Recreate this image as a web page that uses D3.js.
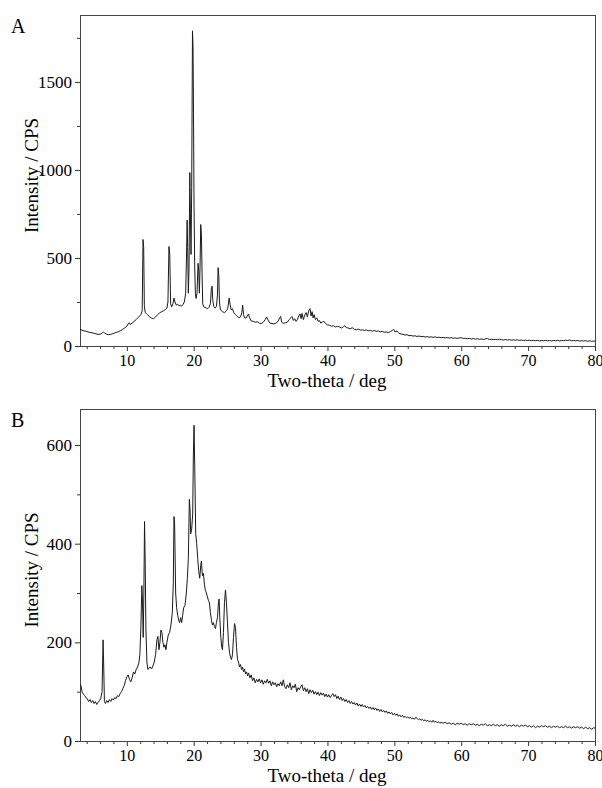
<!DOCTYPE html>
<html><head><meta charset="utf-8">
<script src="https://cdn.jsdelivr.net/npm/d3@7"></script>
<style>
body{margin:0;background:#fff}
svg{display:block}
</style>
</head><body>
<svg id="c" width="602" height="788"></svg>
<script>
// ---- data ----
const xTickValues = [10,20,30,40,50,60,70,80];
const yTicksA = [0,500,1000,1500];
const yTicksB = [0,200,400,600];
const panelLabels = ["A","B"];
const xTitle = "Two-theta / deg";
const yTitle = "Intensity / CPS";

// [two-theta, intensity]
const patternA = [
[3.0,95],[3.3,90],[3.6,86],[3.9,84],[4.2,80],[4.5,77],[4.8,75],[5.1,72],[5.4,69],[5.7,66],[6.0,67],[6.3,72],[6.5,80],[6.7,73],[7.0,67],[7.3,64],[7.6,66],[7.9,70],[8.2,74],[8.5,78],[8.8,82],[9.1,88],[9.4,95],[9.7,103],[10.0,112],[10.2,126],[10.35,132],[10.5,122],[10.8,130],[11.1,140],[11.4,150],[11.7,162],[11.9,170],[12.1,178],[12.3,200],[12.42,605],[12.52,560],[12.62,230],[12.75,190],[12.9,186],[13.1,178],[13.4,165],[13.7,158],[14.0,155],[14.3,165],[14.6,178],[14.9,188],[15.2,195],[15.5,200],[15.8,208],[16.0,215],[16.15,250],[16.3,565],[16.42,520],[16.55,240],[16.7,222],[16.9,240],[17.05,272],[17.2,250],[17.4,232],[17.6,238],[17.8,228],[18.0,232],[18.2,226],[18.4,236],[18.6,250],[18.8,300],[18.92,500],[19.02,715],[19.1,560],[19.2,300],[19.3,440],[19.42,985],[19.5,760],[19.6,520],[19.7,900],[19.82,1790],[19.9,1700],[19.97,1320],[20.05,800],[20.15,450],[20.25,300],[20.35,270],[20.5,300],[20.65,470],[20.75,430],[20.85,300],[20.95,450],[21.05,690],[21.15,640],[21.25,420],[21.35,240],[21.5,222],[21.7,220],[21.9,215],[22.1,212],[22.3,220],[22.5,240],[22.65,330],[22.75,340],[22.85,260],[23.0,225],[23.2,215],[23.4,225],[23.55,290],[23.65,445],[23.75,400],[23.85,250],[24.0,205],[24.3,195],[24.6,190],[24.9,200],[25.1,215],[25.3,272],[25.45,235],[25.6,205],[25.8,212],[26.0,188],[26.2,180],[26.4,172],[26.6,165],[26.8,160],[27.0,165],[27.2,190],[27.32,232],[27.45,180],[27.6,160],[27.8,158],[28.0,170],[28.2,182],[28.35,160],[28.6,142],[28.9,140],[29.2,135],[29.5,138],[29.8,130],[30.1,128],[30.4,135],[30.7,150],[30.9,165],[31.1,148],[31.4,130],[31.7,128],[32.0,125],[32.3,130],[32.6,140],[32.85,160],[33.0,168],[33.15,135],[33.4,128],[33.7,132],[34.0,135],[34.3,150],[34.5,160],[34.7,168],[34.9,145],[35.1,155],[35.3,140],[35.5,150],[35.7,170],[35.9,182],[36.05,155],[36.2,185],[36.4,150],[36.6,175],[36.8,190],[37.0,165],[37.2,200],[37.4,212],[37.55,170],[37.7,195],[37.85,160],[38.0,178],[38.2,150],[38.4,160],[38.6,140],[38.8,145],[39.0,130],[39.2,135],[39.45,140],[39.7,128],[40.0,120],[40.3,118],[40.6,112],[40.9,115],[41.2,108],[41.5,112],[41.8,108],[42.1,102],[42.4,110],[42.6,115],[42.8,105],[43.1,102],[43.4,98],[43.7,104],[44.0,95],[44.3,92],[44.6,96],[44.9,90],[45.2,92],[45.5,88],[45.8,92],[46.1,86],[46.4,89],[46.7,84],[47.0,88],[47.3,83],[47.6,86],[47.9,80],[48.2,83],[48.5,78],[48.8,80],[49.1,76],[49.4,82],[49.7,88],[49.9,95],[50.1,80],[50.4,85],[50.7,72],[51.0,68],[51.3,66],[51.6,62],[51.9,64],[52.2,58],[52.5,60],[52.8,56],[53.1,58],[53.4,54],[53.7,57],[54.0,53],[54.3,55],[54.6,51],[54.9,53],[55.2,50],[55.5,52],[55.8,49],[56.1,52],[56.4,48],[56.7,50],[57.0,47],[57.3,49],[57.6,46],[57.9,48],[58.2,45],[58.5,47],[58.8,44],[59.1,46],[59.4,43],[59.7,46],[60.0,47],[60.3,43],[60.6,44],[60.9,41],[61.2,43],[61.5,40],[61.8,42],[62.1,39],[62.4,41],[62.7,38],[63.0,40],[63.3,37],[63.6,40],[63.9,43],[64.2,37],[64.5,38],[64.8,36],[65.1,38],[65.4,35],[65.7,39],[66.0,36],[66.3,34],[66.6,37],[66.9,34],[67.2,36],[67.5,33],[67.8,35],[68.1,33],[68.4,35],[68.7,32],[69.0,34],[69.3,31],[69.6,33],[69.9,31],[70.2,33],[70.5,30],[70.8,32],[71.1,30],[71.4,32],[71.7,29],[72.0,31],[72.3,30],[72.6,32],[72.9,29],[73.2,31],[73.5,29],[73.8,31],[74.1,30],[74.4,32],[74.7,29],[75.0,31],[75.3,30],[75.6,33],[75.9,31],[76.2,34],[76.5,30],[76.8,31],[77.1,29],[77.4,31],[77.7,28],[78.0,30],[78.3,28],[78.6,30],[78.9,27],[79.2,29],[79.5,27],[79.8,28],[80.0,27]
];

const patternB = [
[3.0,115],[3.15,112],[3.3,100],[3.5,95],[3.7,92],[3.9,88],[4.1,85],[4.3,80],[4.5,84],[4.7,78],[4.9,82],[5.1,76],[5.3,80],[5.5,74],[5.7,78],[5.9,82],[6.1,86],[6.3,100],[6.45,205],[6.55,150],[6.65,80],[6.8,76],[7.0,82],[7.2,78],[7.4,84],[7.6,80],[7.8,86],[8.0,83],[8.2,88],[8.4,86],[8.6,92],[8.8,90],[9.0,96],[9.2,100],[9.4,106],[9.6,112],[9.8,122],[10.0,130],[10.2,134],[10.4,125],[10.6,120],[10.8,128],[11.0,140],[11.2,136],[11.4,145],[11.6,150],[11.8,158],[11.95,175],[12.1,230],[12.25,315],[12.35,280],[12.45,210],[12.55,300],[12.65,445],[12.75,360],[12.85,230],[13.0,160],[13.15,145],[13.3,148],[13.5,150],[13.7,146],[13.9,152],[14.1,160],[14.3,175],[14.5,205],[14.65,212],[14.8,185],[14.95,200],[15.1,225],[15.25,220],[15.4,200],[15.55,190],[15.7,195],[15.85,185],[16.0,200],[16.2,215],[16.4,220],[16.6,235],[16.8,260],[16.95,320],[17.05,455],[17.15,440],[17.3,300],[17.45,270],[17.6,255],[17.75,245],[17.9,240],[18.05,250],[18.2,240],[18.35,255],[18.5,270],[18.7,275],[18.9,300],[19.05,330],[19.2,370],[19.35,490],[19.45,470],[19.55,420],[19.7,430],[19.85,460],[19.95,580],[20.05,640],[20.15,560],[20.3,420],[20.45,400],[20.6,370],[20.75,345],[20.9,330],[21.05,355],[21.15,365],[21.3,335],[21.45,340],[21.6,318],[21.75,305],[21.9,300],[22.05,292],[22.2,285],[22.35,280],[22.5,260],[22.65,245],[22.8,235],[22.95,240],[23.1,232],[23.25,228],[23.4,240],[23.55,250],[23.7,280],[23.8,288],[23.9,250],[24.05,210],[24.2,190],[24.3,185],[24.45,220],[24.6,280],[24.75,306],[24.9,280],[25.05,240],[25.2,200],[25.35,180],[25.5,170],[25.65,165],[25.8,175],[25.95,210],[26.1,238],[26.25,230],[26.4,190],[26.55,165],[26.7,160],[26.85,150],[27.0,155],[27.15,145],[27.3,150],[27.45,140],[27.6,146],[27.75,136],[27.9,140],[28.05,132],[28.2,138],[28.4,128],[28.6,134],[28.8,122],[29.0,128],[29.2,118],[29.4,125],[29.6,120],[29.8,126],[30.0,118],[30.2,124],[30.4,115],[30.6,122],[30.8,118],[31.0,125],[31.2,117],[31.4,122],[31.6,112],[31.8,120],[32.0,114],[32.2,118],[32.4,110],[32.6,116],[32.8,112],[33.0,120],[33.2,112],[33.4,124],[33.6,110],[33.8,106],[34.0,114],[34.2,108],[34.4,118],[34.6,104],[34.8,112],[35.0,108],[35.2,115],[35.4,100],[35.6,108],[35.8,104],[36.0,110],[36.2,114],[36.4,102],[36.6,108],[36.8,100],[37.0,106],[37.2,96],[37.4,104],[37.6,98],[37.8,103],[38.0,95],[38.2,100],[38.4,94],[38.6,99],[38.8,92],[39.0,98],[39.2,93],[39.4,97],[39.6,90],[39.8,95],[40.0,89],[40.2,94],[40.4,88],[40.6,92],[40.8,96],[41.0,90],[41.2,94],[41.4,86],[41.6,91],[41.8,84],[42.0,89],[42.2,82],[42.4,86],[42.6,80],[42.8,84],[43.0,78],[43.2,82],[43.4,76],[43.6,80],[43.8,75],[44.0,78],[44.2,73],[44.4,77],[44.6,71],[44.8,75],[45.0,70],[45.2,74],[45.4,69],[45.6,72],[45.8,67],[46.0,70],[46.2,66],[46.4,69],[46.6,64],[46.8,68],[47.0,63],[47.2,67],[47.4,62],[47.6,65],[47.8,60],[48.0,64],[48.2,59],[48.4,62],[48.6,58],[48.8,61],[49.0,56],[49.2,59],[49.4,55],[49.6,58],[49.8,53],[50.0,56],[50.2,52],[50.4,55],[50.6,50],[50.8,53],[51.0,49],[51.2,52],[51.4,48],[51.6,50],[51.8,47],[52.0,49],[52.2,46],[52.4,48],[52.6,45],[52.8,47],[53.0,44],[53.2,48],[53.4,46],[53.6,43],[53.8,45],[54.0,42],[54.2,44],[54.4,41],[54.6,43],[54.8,40],[55.0,42],[55.2,39],[55.4,41],[55.6,38],[55.8,42],[56.0,38],[56.2,40],[56.4,37],[56.6,39],[56.8,36],[57.0,38],[57.3,36],[57.6,38],[57.9,35],[58.2,37],[58.5,34],[58.8,36],[59.1,33],[59.4,36],[59.7,34],[60.0,36],[60.3,33],[60.6,35],[60.9,32],[61.2,35],[61.5,33],[61.8,35],[62.1,32],[62.4,34],[62.7,31],[63.0,34],[63.3,32],[63.6,35],[63.9,31],[64.2,33],[64.5,31],[64.8,34],[65.1,31],[65.4,33],[65.7,30],[66.0,33],[66.3,31],[66.6,34],[66.9,30],[67.2,32],[67.5,30],[67.8,33],[68.1,30],[68.4,32],[68.7,29],[69.0,32],[69.3,30],[69.6,32],[69.9,29],[70.2,31],[70.5,28],[70.8,31],[71.1,27],[71.4,30],[71.7,28],[72.0,31],[72.3,29],[72.6,31],[72.9,28],[73.2,30],[73.5,27],[73.8,30],[74.1,28],[74.4,30],[74.7,27],[75.0,29],[75.3,27],[75.6,30],[75.9,27],[76.2,29],[76.5,26],[76.8,29],[77.1,27],[77.4,29],[77.7,26],[78.0,28],[78.3,25],[78.6,28],[78.9,25],[79.2,27],[79.5,24],[79.8,27],[80.0,26]
];

// ---- drawing ----
const FONT = "'Liberation Serif', 'Times New Roman', Times, 'DejaVu Serif', serif";
const svg = d3.select("#c");
const left = 80, right = 595;
const xDomain = [3, 80];

const panels = [
  {label: panelLabels[0], data: patternA, top: 15, bottom: 346, ymax: 1880, ticks: yTicksA, minorStep: 250},
  {label: panelLabels[1], data: patternB, top: 409, bottom: 741, ymax: 673, ticks: yTicksB, minorStep: 100}
];

panels.forEach((p, i) => {
  const x = d3.scaleLinear().domain(xDomain).range([left, right]);
  const y = d3.scaleLinear().domain([0, p.ymax]).range([p.bottom, p.top]);
  const g = svg.append("g");

  const clipId = "clip" + i;
  svg.append("clipPath").attr("id", clipId).append("rect")
    .attr("x", left).attr("y", p.top).attr("width", right - left).attr("height", p.bottom - p.top);

  // minor x ticks
  const minorX = d3.range(4, 80, 2).filter(v => v % 10 !== 0);
  g.append("g").attr("transform", `translate(0,${p.bottom})`)
    .call(d3.axisBottom(x).tickValues(minorX).tickSize(3).tickFormat(""))
    .call(a => a.select(".domain").remove())
    .selectAll("line").attr("stroke", "#333");
  // major x
  const xa = g.append("g").attr("transform", `translate(0,${p.bottom})`)
    .call(d3.axisBottom(x).tickValues(xTickValues).tickSize(5).tickPadding(4).tickFormat(d3.format("d")));
  xa.select(".domain").remove();
  xa.selectAll("line").attr("stroke", "#333");
  xa.selectAll("text").attr("font-size", 16).style("font-family", FONT).attr("fill", "#000");

  // minor y
  const minorY = d3.range(p.minorStep, p.ymax, p.minorStep).filter(v => !p.ticks.includes(v));
  g.append("g").attr("transform", `translate(${left},0)`)
    .call(d3.axisLeft(y).tickValues(minorY).tickSize(3).tickFormat(""))
    .call(a => a.select(".domain").remove())
    .selectAll("line").attr("stroke", "#333");
  const ya = g.append("g").attr("transform", `translate(${left},0)`)
    .call(d3.axisLeft(y).tickValues(p.ticks).tickSize(5).tickPadding(3).tickFormat(d3.format("d")));
  ya.select(".domain").remove();
  ya.selectAll("line").attr("stroke", "#333");
  ya.selectAll("text").attr("font-size", 17).style("font-family", FONT).attr("fill", "#000");

  // frame
  g.append("rect").attr("x", left + 0.5).attr("y", p.top + 0.5)
    .attr("width", right - left).attr("height", p.bottom - p.top)
    .attr("fill", "none").attr("stroke", "#444").attr("stroke-width", 1);

  // pattern line
  const line = d3.line().x(d => x(d[0])).y(d => y(d[1]));
  g.append("path").datum(p.data)
    .attr("clip-path", `url(#${clipId})`)
    .attr("d", line).attr("fill", "none").attr("stroke", "#1a1a1a").attr("stroke-width", 1)
    .attr("stroke-linejoin", "round");

  // titles
  g.append("text").attr("x", 327).attr("y", p.bottom + 41)
    .attr("text-anchor", "middle").attr("font-size", 19).style("font-family", FONT).attr("fill", "#000").text(xTitle);
  const cy = (p.top + p.bottom) / 2 - 5;
  g.append("text").attr("transform", `translate(38,${cy}) rotate(-90)`)
    .attr("text-anchor", "middle").attr("font-size", 19).style("font-family", FONT).attr("fill", "#000").text(yTitle);
  g.append("text").attr("x", 11).attr("y", p.top + 18).attr("font-size", 20).style("font-family", FONT).attr("fill", "#000").text(p.label);
});
</script>
</body></html>
